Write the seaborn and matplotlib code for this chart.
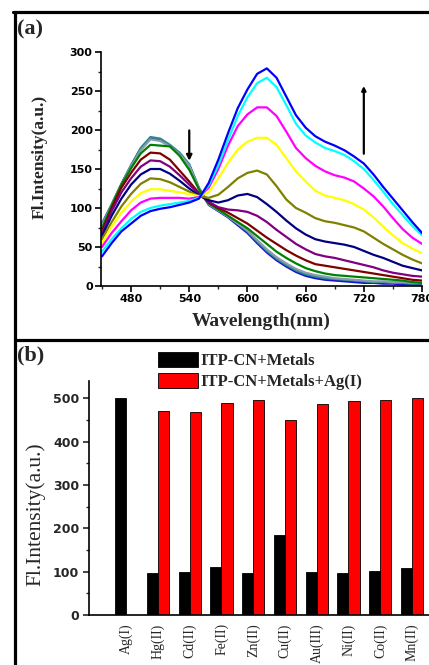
import numpy as np
import pandas as pd
import matplotlib
matplotlib.use("Agg")
import matplotlib.pyplot as plt
import seaborn as sns
from matplotlib.ticker import MultipleLocator
from matplotlib.lines import Line2D

# %%
# (a) emission spectra during the Ag(I) titration
wavelength = [450, 460, 470, 480, 490, 500, 510, 520, 530, 540, 550, 560,
              570, 580, 590, 600, 610, 620, 630, 640, 650, 660, 670, 680,
              690, 700, 710, 720, 730, 740, 750, 760, 770, 780]

eq00 = [80, 104, 130, 154, 176, 189, 188, 180, 170, 155, 125, 104, 96, 88, 78, 68, 55,
        43, 33, 25, 18, 13, 10, 8, 7, 6, 5, 4, 4, 3, 3, 2, 2, 2]
eq01 = [79, 105, 131, 155, 177, 191, 189, 181, 171, 156, 126, 105, 97, 89, 80, 70, 57,
        45, 35, 27, 20, 15, 12, 10, 9, 8, 7, 6, 5, 5, 4, 4, 3, 3]
eq02 = [77, 104, 130, 153, 174, 188, 186, 179, 169, 154, 125, 105, 97, 89, 80, 71, 59,
        47, 37, 29, 22, 17, 14, 12, 10, 9, 8, 7, 6, 6, 5, 5, 4, 4]
eq03 = [74, 103, 130, 151, 170, 181, 180, 179, 167, 149, 124, 106, 98, 90, 82, 74, 64,
        54, 44, 36, 29, 23, 19, 16, 14, 13, 12, 11, 10, 9, 8, 7, 5, 4]
eq04 = [70, 100, 126, 145, 162, 171, 170, 162, 148, 134, 119, 107, 100, 94, 87, 80, 71,
        62, 54, 46, 39, 33, 28, 26, 24, 22, 20, 18, 16, 14, 12, 10, 8, 7]
eq05 = [67, 96, 120, 138, 153, 161, 160, 153, 142, 130, 118, 108, 101, 98, 97, 95, 90,
        82, 72, 63, 54, 47, 41, 38, 36, 33, 30, 27, 24, 20, 17, 15, 13, 12]
eq06 = [64, 90, 112, 130, 143, 150, 150, 144, 135, 125, 116, 110, 107, 110, 116, 118, 114,
        105, 95, 84, 74, 66, 60, 57, 55, 53, 50, 45, 40, 36, 31, 26, 23, 20]
eq07 = [60, 82, 102, 118, 131, 138, 137, 133, 127, 121, 115, 113, 117, 127, 138, 145, 148,
        143, 128, 111, 100, 94, 87, 83, 81, 78, 75, 70, 62, 54, 47, 40, 34, 29]
eq08 = [55, 76, 94, 108, 119, 124, 124, 122, 120, 118, 115, 120, 138, 158, 175, 185, 190,
        190, 181, 164, 147, 134, 122, 116, 113, 110, 105, 98, 88, 76, 65, 55, 48, 42]
eq09 = [50, 68, 83, 97, 107, 112, 113, 113, 113, 112, 114, 126, 150, 180, 205, 220, 229,
        229, 218, 198, 177, 164, 154, 147, 142, 139, 134, 125, 115, 102, 87, 73, 62, 54]
eq10 = [44, 60, 74, 86, 95, 100, 103, 105, 107, 109, 113, 129, 155, 187, 218, 242, 260,
        267, 255, 232, 208, 193, 184, 177, 173, 168, 160, 150, 136, 121, 105, 91, 77, 65]
eq11 = [38, 55, 70, 80, 90, 96, 99, 101, 104, 107, 112, 132, 162, 196, 228, 252, 272,
        279, 267, 243, 219, 203, 192, 185, 180, 174, 166, 157, 143, 127, 112, 97, 82, 68]

spectra = {"eq00": eq00, "eq01": eq01, "eq02": eq02, "eq03": eq03, "eq04": eq04,
           "eq05": eq05, "eq06": eq06, "eq07": eq07, "eq08": eq08, "eq09": eq09,
           "eq10": eq10, "eq11": eq11}
curve_colors = ["#1414d2", "#2a8a8a", "#8c9cb0", "#008000", "#800000", "#800080",
                "#000080", "#808000", "#ffff00", "#ff00ff", "#00ffff", "#0000ff"]

# (b) selectivity test
metals = ["Ag(I)", "Hg(II)", "Cd(II)", "Fe(II)", "Zn(II)", "Cu(II)",
          "Au(III)", "Ni(II)", "Co(II)", "Mn(II)"]
metals_only = [500, 98, 100, 110, 98, 184, 100, 96, 102, 108]
metals_plus_ag = [np.nan, 470, 468, 490, 497, 449, 486, 495, 497, 500]
series_names = ["ITP-CN+Metals", "ITP-CN+Metals+Ag(I)"]

# %%
sns.set_theme(style="ticks")
plt.rcParams["font.family"] = ["DejaVu Sans"]
plt.rcParams["font.weight"] = "bold"
plt.rcParams["axes.linewidth"] = 1.2
plt.rcParams["axes.edgecolor"] = "black"

serif = "Liberation Serif"

spec_df = pd.DataFrame(spectra)
spec_df["wavelength"] = wavelength
spec_df = spec_df.melt(id_vars="wavelength", var_name="step", value_name="intensity")

bar_df = pd.DataFrame({"metal": metals * 2,
                       "value": metals_only + metals_plus_ag,
                       "series": [series_names[0]] * len(metals) + [series_names[1]] * len(metals)})

fig = plt.figure(figsize=(4.29, 6.65), dpi=100)
W, H = 429, 665
ax_a = fig.add_axes([101 / W, 379 / H, 321 / W, 234 / H])
ax_b = fig.add_axes([89 / W, 50 / H, 343 / W, 234 / H])

# %%
# panel (a)
sns.lineplot(data=spec_df, x="wavelength", y="intensity", hue="step",
             hue_order=list(spectra.keys()), palette=curve_colors,
             linewidth=1.6, legend=False, ax=ax_a)
ax_a.set_xlim(449, 780)
ax_a.set_ylim(0, 300)
ax_a.xaxis.set_major_locator(MultipleLocator(60))
ax_a.xaxis.set_minor_locator(MultipleLocator(30))
ax_a.yaxis.set_major_locator(MultipleLocator(50))
ax_a.yaxis.set_minor_locator(MultipleLocator(25))
ax_a.tick_params(which="major", direction="out", length=4, width=1.2, labelsize=8, pad=2, colors="black")
ax_a.tick_params(which="minor", direction="out", length=2.5, width=1.0)
sns.despine(ax=ax_a)
ax_a.set_xlabel("Wavelength(nm)", family=serif, fontsize=14, fontweight="bold")
ax_a.set_ylabel("Fl.Intensity(a.u.)", family=serif, fontsize=12.5, fontweight="bold")
ax_a.xaxis.set_label_coords(0.5, -0.115)
ax_a.yaxis.set_label_coords(-0.166, 0.55)

ax_a.annotate("", xy=(540, 157), xytext=(540, 203),
              arrowprops=dict(arrowstyle="-|>", lw=1.6, color="black", mutation_scale=8))
ax_a.annotate("", xy=(720, 260), xytext=(720, 166),
              arrowprops=dict(arrowstyle="-|>", lw=1.6, color="black", mutation_scale=6))

# %%
# panel (b)
sns.barplot(data=bar_df, x="metal", y="value", hue="series", hue_order=series_names,
            palette=["black", "#ff0000"], saturation=1, width=0.7,
            edgecolor="black", linewidth=0.6, ax=ax_b)
ax_b.set_xlim(-1.17, 9.63)
ax_b.set_ylim(0, 540)
ax_b.yaxis.set_major_locator(MultipleLocator(100))
ax_b.yaxis.set_minor_locator(MultipleLocator(50))
ax_b.tick_params(axis="y", which="major", direction="out", length=4, width=1.2, labelsize=9, pad=3)
ax_b.tick_params(axis="y", which="minor", direction="out", length=2.5, width=1.0)
ax_b.tick_params(axis="x", length=0, pad=6)
ax_b.set_xticks(range(len(metals)))
ax_b.set_xticklabels(metals, rotation=90, family=serif, fontweight="normal", fontsize=10)
sns.despine(ax=ax_b)
ax_b.set_xlabel("")
ax_b.set_ylabel("Fl.Intensity(a.u.)", family=serif, fontsize=15.5, fontweight="normal")
ax_b.yaxis.set_label_coords(-0.128, 0.43)

handles, labels = ax_b.get_legend_handles_labels()
ax_b.legend(handles, labels, loc="upper left", bbox_to_anchor=(158 / W, 1 - 352 / H),
            bbox_transform=fig.transFigure, frameon=False,
            prop={"family": serif, "weight": "bold", "size": 12},
            handlelength=2.4, handleheight=1.0, handletextpad=0.15,
            labelspacing=0.22, borderpad=0, borderaxespad=0)

# %%
# panel frames and letters
lw = 2.3
x_left = 14.5 / W
y_top = 1 - 11.5 / H
y_mid = 1 - 340 / H
fig.add_artist(Line2D([x_left - 1.5 / W, 1], [y_top, y_top], transform=fig.transFigure, color="black", lw=lw))
fig.add_artist(Line2D([x_left, x_left], [y_top, 0], transform=fig.transFigure, color="black", lw=lw))
fig.add_artist(Line2D([x_left, 1], [y_mid, y_mid], transform=fig.transFigure, color="black", lw=lw))
fig.text(17 / W, 1 - 29 / H, "(a)", family=serif, fontsize=16, fontweight="bold", va="center", ha="left")
fig.text(17 / W, 1 - 355 / H, "(b)", family=serif, fontsize=16, fontweight="bold", va="center", ha="left")

fig.savefig("out.png", dpi=100)
